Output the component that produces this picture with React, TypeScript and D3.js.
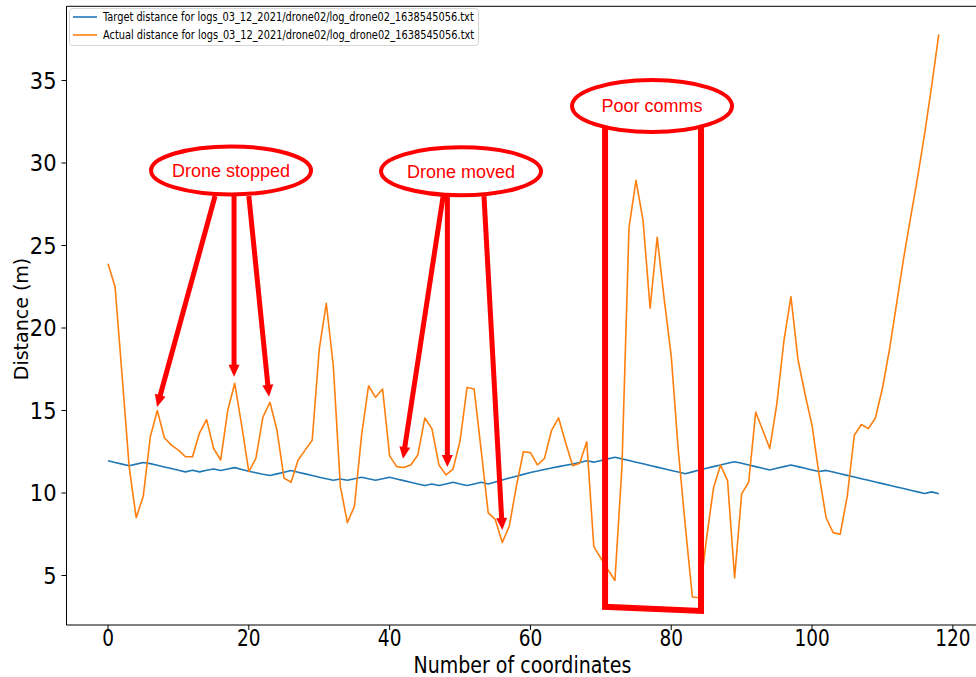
import React, { useEffect, useRef } from "react";
import * as d3 from "d3";

// target distance (blue) per coordinate index 0..118
const target = [
  11.95, 11.85, 11.75, 11.65, 11.75, 11.85, 11.78, 11.68, 11.58, 11.48,
  11.38, 11.28, 11.38, 11.28, 11.38, 11.46, 11.36, 11.45, 11.54, 11.43,
  11.32, 11.23, 11.14, 11.06, 11.16, 11.26, 11.36, 11.26, 11.16, 11.06,
  10.96, 10.86, 10.77, 10.85, 10.77, 10.86, 10.95, 10.86, 10.77, 10.86,
  10.95, 10.85, 10.75, 10.65, 10.55, 10.45, 10.55, 10.45, 10.55, 10.65,
  10.55, 10.45, 10.55, 10.65, 10.55, 10.67, 10.79, 10.91, 11.02, 11.13,
  11.24, 11.33, 11.43, 11.52, 11.6, 11.68, 11.75, 11.85, 11.95, 11.87,
  11.97, 12.07, 12.17, 12.07, 11.97, 11.87, 11.77, 11.67, 11.57, 11.47,
  11.37, 11.27, 11.17, 11.28, 11.39, 11.5, 11.6, 11.7, 11.8, 11.9,
  11.8, 11.7, 11.6, 11.5, 11.4, 11.5, 11.6, 11.7, 11.6, 11.5,
  11.4, 11.3, 11.37, 11.27, 11.17, 11.07, 10.97, 10.87, 10.77, 10.67,
  10.57, 10.47, 10.37, 10.27, 10.17, 10.07, 9.97, 10.07, 9.95,
];

// actual distance (orange)
const actual = [
  23.9, 22.5, 17.1, 11.6, 8.5, 9.8, 13.4, 15.0, 13.35, 12.9,
  12.6, 12.2, 12.2, 13.65, 14.45, 12.7, 12.0, 15.0, 16.65, 14.05,
  11.3, 12.1, 14.6, 15.5, 13.8, 10.9, 10.65, 12.0, 12.6, 13.2,
  18.7, 21.5, 17.7, 10.4, 8.2, 9.2, 13.45, 16.5, 15.8, 16.3,
  12.25, 11.6, 11.55, 11.7, 12.3, 14.55, 13.9, 11.7, 11.1, 11.45,
  13.15, 16.4, 16.3, 12.6, 8.8, 8.4, 7.0, 8.0, 10.4, 12.5,
  12.45, 11.7, 12.1, 13.8, 14.55, 13.05, 11.65, 11.8, 13.1, 6.75,
  6.05, 5.35, 4.7, 11.6, 26.1, 28.95, 26.5, 21.2, 25.5, 21.75,
  18.3, 12.6, 8.0, 3.7, 3.65, 7.2, 10.3, 11.7, 10.75, 4.85,
  9.95, 10.65, 14.9, 13.8, 12.7, 15.4, 19.2, 21.9, 18.1, 16.0,
  14.1, 11.1, 8.5, 7.6, 7.5, 9.8, 13.5, 14.15, 13.9, 14.55,
  16.35, 18.7, 21.45, 24.2, 26.7, 29.15, 31.8, 34.7, 37.8,
];

const xTicks = [0, 20, 40, 60, 80, 100, 120];
const yTicks = [5, 10, 15, 20, 25, 30, 35];
const seriesNames = [
  "Target distance for logs_03_12_2021/drone02/log_drone02_1638545056.txt",
  "Actual distance for logs_03_12_2021/drone02/log_drone02_1638545056.txt",
];
const seriesColors = ["#1f77b4", "#ff7f0e"];

// hand drawn annotations, in data units
const bubbles = [
  { label: "Drone stopped", cx: 17.47, cy: 29.55, ry: 24 },
  { label: "Drone moved", cx: 50.14, cy: 29.5, ry: 24 },
  { label: "Poor comms", cx: 77.27, cy: 33.46, ry: 26 },
];
const arrows = [
  { x1: 15.2, y1: 28.0, x2: 6.96, y2: 15.22 },
  { x1: 17.9, y1: 28.0, x2: 17.9, y2: 17.04 },
  { x1: 20.0, y1: 28.0, x2: 22.87, y2: 15.83 },
  { x1: 47.6, y1: 28.0, x2: 41.9, y2: 12.07 },
  { x1: 48.2, y1: 28.0, x2: 48.2, y2: 11.58 },
  { x1: 53.4, y1: 28.0, x2: 56.0, y2: 7.76 },
];
const commsBox = [
  [70.6, 32.2],
  [70.6, 3.1],
  [84.23, 2.85],
  [84.23, 32.2],
];

const W = 976;
const H = 677;
const STRETCH = 1.22; // the screenshot is squashed horizontally

export default function App() {
  const ref = useRef<SVGSVGElement>(null);

  useEffect(() => {
    const svg = d3.select(ref.current);
    svg.selectAll("*").remove();

    const x = d3.scaleLinear().domain([-5.9, 123.9]).range([66.5, 980.3]);
    const y = d3.scaleLinear().domain([2.0, 39.5]).range([625, 6.3]);
    const font = "DejaVu Sans, sans-serif";

    const plotL = x(-5.9), plotT = y(39.5), plotB = y(2.0);

    svg.append("rect").attr("width", W).attr("height", H).attr("fill", "#fff");

    const line = d3.line<number>()
      .x((d, i) => x(i))
      .y(d => y(d));

    [target, actual].forEach((s, k) => {
      svg.append("path")
        .attr("d", line(s))
        .attr("fill", "none")
        .attr("stroke", seriesColors[k])
        .attr("stroke-width", 1.6)
        .attr("stroke-linejoin", "round");
    });

    // spines
    svg.append("path")
      .attr("d", `M${W},${plotT}H${plotL}V${plotB}H${W}`)
      .attr("fill", "none")
      .attr("stroke", "#000")
      .attr("stroke-width", 1);

    // x ticks
    xTicks.forEach(t => {
      svg.append("line")
        .attr("x1", x(t)).attr("x2", x(t))
        .attr("y1", plotB).attr("y2", plotB + 5)
        .attr("stroke", "#000");
      svg.append("text")
        .attr("transform", `translate(${x(t)},${plotB + 21}) scale(1,${STRETCH})`)
        .attr("text-anchor", "middle")
        .attr("font-family", font)
        .attr("font-size", 18.5)
        .text(t);
    });

    // y ticks
    yTicks.forEach(t => {
      svg.append("line")
        .attr("x1", plotL - 5).attr("x2", plotL)
        .attr("y1", y(t)).attr("y2", y(t))
        .attr("stroke", "#000");
      svg.append("text")
        .attr("transform", `translate(${plotL - 10},${y(t) + 8}) scale(1,1.08)`)
        .attr("text-anchor", "end")
        .attr("font-family", font)
        .attr("font-size", 21)
        .text(t);
    });

    svg.append("text")
      .attr("transform", `translate(${x(60) - 8},${673}) scale(1,${STRETCH})`)
      .attr("text-anchor", "middle")
      .attr("font-family", font)
      .attr("font-size", 19)
      .text("Number of coordinates");

    svg.append("text")
      .attr("transform", `translate(28,319) rotate(-90)`)
      .attr("text-anchor", "middle")
      .attr("font-family", font)
      .attr("font-size", 19)
      .text("Distance (m)");

    // legend
    const lg = svg.append("g");
    lg.append("rect")
      .attr("x", 69.5).attr("y", 8.5)
      .attr("width", 409).attr("height", 37)
      .attr("rx", 3)
      .attr("fill", "#fff")
      .attr("stroke", "#d6d6d6");
    seriesNames.forEach((name, k) => {
      const ly = 17 + k * 18;
      lg.append("line")
        .attr("x1", 73).attr("x2", 97)
        .attr("y1", ly).attr("y2", ly)
        .attr("stroke", seriesColors[k])
        .attr("stroke-width", 1.6);
      lg.append("text")
        .attr("transform", `translate(103,${ly + 4}) scale(1,${STRETCH})`)
        .attr("font-family", font)
        .attr("font-size", 9.8)
        .text(name);
    });

    // annotations
    const red = "#ff0000";
    const ann = svg.append("g");

    ann.append("path")
      .attr("d", d3.line()(commsBox.map(([a, b]) => [x(a), y(b)] as [number, number])))
      .attr("fill", "none")
      .attr("stroke", red)
      .attr("stroke-width", 6)
      .attr("stroke-linejoin", "miter");

    arrows.forEach(a => {
      const x1 = x(a.x1), y1 = y(a.y1), x2 = x(a.x2), y2 = y(a.y2);
      const len = Math.hypot(x2 - x1, y2 - y1);
      const ux = (x2 - x1) / len, uy = (y2 - y1) / len;
      const head = 12, half = 5.5;
      const bx = x2 - ux * head, by = y2 - uy * head;
      ann.append("line")
        .attr("x1", x1).attr("y1", y1)
        .attr("x2", bx + ux).attr("y2", by + uy)
        .attr("stroke", red)
        .attr("stroke-width", 5);
      ann.append("path")
        .attr("d", `M${x2},${y2}L${bx - uy * half},${by + ux * half}L${bx + uy * half},${by - ux * half}Z`)
        .attr("fill", red);
    });

    bubbles.forEach(b => {
      ann.append("ellipse")
        .attr("cx", x(b.cx)).attr("cy", y(b.cy))
        .attr("rx", 80).attr("ry", b.ry)
        .attr("fill", "none")
        .attr("stroke", red)
        .attr("stroke-width", 4);
      ann.append("text")
        .attr("x", x(b.cx)).attr("y", y(b.cy) + 6.5)
        .attr("text-anchor", "middle")
        .attr("font-family", "Liberation Sans, Arial, sans-serif")
        .attr("font-size", 18)
        .attr("fill", red)
        .text(b.label);
    });
  }, []);

  return (
    <svg
      ref={ref}
      width={W}
      height={H}
      style={{ position: "absolute", left: 0, top: 0 }}
    />
  );
}
